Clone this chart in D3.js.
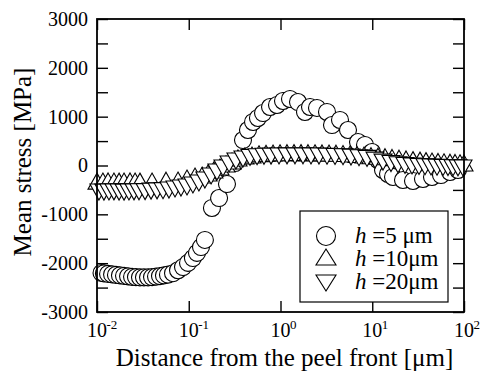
<!DOCTYPE html>
<html>
<head>
<meta charset="utf-8">
<script src="https://cdn.jsdelivr.net/npm/d3@7"></script>
<style>
  body { margin: 0; background: #fff; }
  svg { display: block; }
  svg text { font-family: "Liberation Serif", "DejaVu Serif", serif; white-space: pre; fill: #000; }
</style>
</head>
<body>
<svg width="481" height="373"></svg>
<script>
// h = 5 um (circles)
const h5X = [0.0112, 0.0119, 0.0132, 0.0146, 0.0161, 0.0178, 0.0197, 0.0218, 0.0241, 0.0266,
  0.0294, 0.0325, 0.036, 0.0398, 0.044, 0.0486, 0.0537, 0.0594, 0.0674, 0.0764,
  0.0866, 0.0982, 0.111, 0.123, 0.136, 0.150,
  0.179, 0.214, 0.261, 0.319, 0.390, 0.442, 0.502, 0.568, 0.645, 0.769,
  0.916, 1.065, 1.269, 1.551, 1.849, 2.097, 2.499, 3.212, 3.641, 4.451,
  5.441, 6.995, 8.337, 9.938, 11.55, 13.10, 14.85, 16.84, 21.63, 27.81,
  35.73, 44.79, 56.14, 70.37, 86.03];
const h5Y = [-2200, -2210, -2220, -2230, -2240, -2250, -2260, -2270, -2280, -2285,
  -2290, -2290, -2290, -2285, -2275, -2265, -2250, -2235, -2205, -2145,
  -2080, -1995, -1895, -1790, -1670, -1525,
  -870, -666, -379, 51, 522, 727, 891, 973, 1075, 1198,
  1239, 1321, 1362, 1300, 1096, 1198, 1178, 1096, 829, 932,
  727, 481, 420, 276, 113, -92, -174, -235, -297, -317,
  -276, -235, -195, -133, -92];

// h = 10 um (up triangles)
const h10X = [0.01, 0.0116, 0.0132, 0.0153, 0.0174, 0.0197, 0.0229, 0.0260, 0.0294, 0.0398,
  0.0565, 0.0764, 0.0957, 0.117, 0.140, 0.162, 0.188, 0.219, 0.255, 0.296,
  0.344, 0.410, 0.489, 0.583, 0.695, 0.829, 0.988, 1.177, 1.403, 1.673,
  1.994, 2.377, 2.834, 3.378, 4.026, 4.800, 5.722, 6.822, 8.131, 9.692,
  11.55, 13.77, 16.42, 19.57, 23.33, 27.81, 33.14, 38.53, 44.79, 52.08,
  60.53, 70.37, 79.80, 90.45, 100];
const h10Y = [-320, -318, -316, -318, -320, -318, -316, -318, -320, -318,
  -300, -297, -256, -215, -195, -154, -92, -31, 31, 92,
  154, 195, 215, 240, 250, 256, 260, 262, 264, 264,
  262, 260, 258, 256, 252, 245, 235, 225, 215, 200,
  190, 180, 165, 150, 135, 120, 110, 100, 90, 82,
  75, 68, 62, 56, 50];

// h = 20 um (down triangles)
const h20X = [0.0105, 0.0119, 0.0135, 0.0153, 0.0174, 0.0197, 0.0223, 0.0253, 0.0287, 0.0334,
  0.0388, 0.0451, 0.0524, 0.0609, 0.0708, 0.0823, 0.0957, 0.111, 0.129, 0.150,
  0.175, 0.203, 0.236, 0.275, 0.327, 0.390, 0.465, 0.555, 0.661, 0.788,
  0.963, 1.177, 1.439, 1.759, 2.149, 2.628, 3.212, 3.926, 4.800, 5.867,
  7.171, 8.766, 10.72, 13.10, 16.01, 19.09, 22.75, 27.12, 32.32, 37.58,
  43.69, 50.79, 59.04, 66.93, 75.89, 86.03, 97.52];
const h20Y = [-543, -545, -542, -540, -543, -545, -542, -540, -538, -535,
  -525, -520, -515, -502, -481, -461, -440, -399, -358, -297,
  -215, -133, -51, 31, 92, 133, 165, 180, 188, 192,
  195, 197, 198, 198, 196, 194, 190, 185, 180, 172,
  160, 145, 110, 70, 40, 15, 0, -10, -20, -25,
  -30, -35, -40, -42, -45, -48, -50];

const xTicks = [0.01, 0.1, 1, 10, 100];
const xTickExp = ["-2", "-1", "0", "1", "2"];
const yTicks = d3.range(-3000, 3001, 500);
const yLabels = [-3000, -2000, -1000, 0, 1000, 2000, 3000];
const legendLabels = [" =5 \u03bcm", " =10\u03bcm", " =20\u03bcm"];

const svg = d3.select("svg");
const mLeft = 97, mRight = 464, mTop = 19, mBottom = 312;

const x = d3.scaleLog().domain([0.01, 100]).range([mLeft, mRight]);
const y = d3.scaleLinear().domain([-3000, 3000]).range([mBottom, mTop]);

const triW = 18, triH = 16, rad = 8.5;
function triUp(w, h) { return `M0,${-h / 2}L${w / 2},${h / 2}L${-w / 2},${h / 2}Z`; }
function triDown(w, h) { return `M0,${h / 2}L${w / 2},${-h / 2}L${-w / 2},${-h / 2}Z`; }

// axes with inward ticks
function styleAxis(g) {
  g.attr("font-family", null);
  g.select(".domain").remove();
  g.selectAll("line").attr("stroke", "#000").attr("stroke-width", 1.4);
}

svg.append("g").attr("transform", `translate(${mLeft},0)`)
  .call(d3.axisLeft(y).tickValues(yTicks).tickSize(-11).tickPadding(9)
    .tickFormat(d => yLabels.includes(d) ? String(d) : ""))
  .call(styleAxis)
  .selectAll("text").attr("font-size", 20);

svg.append("g").attr("transform", `translate(${mRight},0)`)
  .call(d3.axisRight(y).tickValues(yTicks).tickSize(-11).tickFormat(""))
  .call(styleAxis);

svg.append("g").attr("transform", `translate(0,${mBottom})`)
  .call(d3.axisBottom(x).tickValues(xTicks).tickSize(-11).tickFormat(""))
  .call(styleAxis);

svg.append("g").attr("transform", `translate(0,${mTop})`)
  .call(d3.axisTop(x).tickValues(xTicks).tickSize(-11).tickFormat(""))
  .call(styleAxis);

// x tick labels with superscripts
const xl = svg.append("g").attr("font-size", 20);
xTicks.forEach((t, i) => {
  xl.append("text").attr("x", x(t)).attr("y", 337).attr("text-anchor", "middle").text("10");
  xl.append("text").attr("x", x(t) + 9.5).attr("y", 329).attr("font-size", 13).text(xTickExp[i]);
});

// markers
svg.append("g").selectAll("circle")
  .data(h5X.map((d, i) => [d, h5Y[i]]))
  .join("circle")
  .attr("cx", d => x(d[0])).attr("cy", d => y(d[1])).attr("r", rad)
  .attr("fill", "#fff").attr("stroke", "#000").attr("stroke-width", 1.1);

svg.append("g").selectAll("path")
  .data(h10X.map((d, i) => [d, h10Y[i]]))
  .join("path")
  .attr("d", triUp(triW, triH))
  .attr("transform", d => `translate(${x(d[0])},${y(d[1])})`)
  .attr("fill", "#fff").attr("stroke", "#000").attr("stroke-width", 1.1);

svg.append("g").selectAll("path")
  .data(h20X.map((d, i) => [d, h20Y[i]]))
  .join("path")
  .attr("d", triDown(triW, triH))
  .attr("transform", d => `translate(${x(d[0])},${y(d[1])})`)
  .attr("fill", "#fff").attr("stroke", "#000").attr("stroke-width", 1.1);

// frame
svg.append("rect")
  .attr("x", mLeft).attr("y", mTop).attr("width", mRight - mLeft).attr("height", mBottom - mTop)
  .attr("fill", "none").attr("stroke", "#000").attr("stroke-width", 1.8);

// axis titles
svg.append("text")
  .attr("x", (mLeft + mRight) / 2 + 4).attr("y", 366)
  .attr("text-anchor", "middle").attr("font-size", 25)
  .text("Distance from the peel front [\u03bcm]");

svg.append("text")
  .attr("transform", "translate(31,162) rotate(-90)")
  .attr("text-anchor", "middle").attr("font-size", 25)
  .text("Mean stress [MPa]");

// legend
const lg = svg.append("g");
lg.append("rect").attr("x", 300).attr("y", 211).attr("width", 148).attr("height", 91)
  .attr("fill", "#fff").attr("stroke", "#000").attr("stroke-width", 1.2);
const rows = [243, 266, 289];
lg.append("circle").attr("cx", 326).attr("cy", rows[0] - 7).attr("r", 9.5)
  .attr("fill", "#fff").attr("stroke", "#000").attr("stroke-width", 1.1);
lg.append("path").attr("d", triUp(20, 16)).attr("transform", `translate(326,${rows[1] - 9})`)
  .attr("fill", "#fff").attr("stroke", "#000").attr("stroke-width", 1.1);
lg.append("path").attr("d", triDown(20, 16)).attr("transform", `translate(326,${rows[2] - 6})`)
  .attr("fill", "#fff").attr("stroke", "#000").attr("stroke-width", 1.1);
legendLabels.forEach((l, i) => {
  const t = lg.append("text").attr("x", 355).attr("y", rows[i]).attr("font-size", 23);
  t.append("tspan").attr("font-style", "italic").text("h");
  t.append("tspan").text(l);
});
</script>
</body>
</html>
